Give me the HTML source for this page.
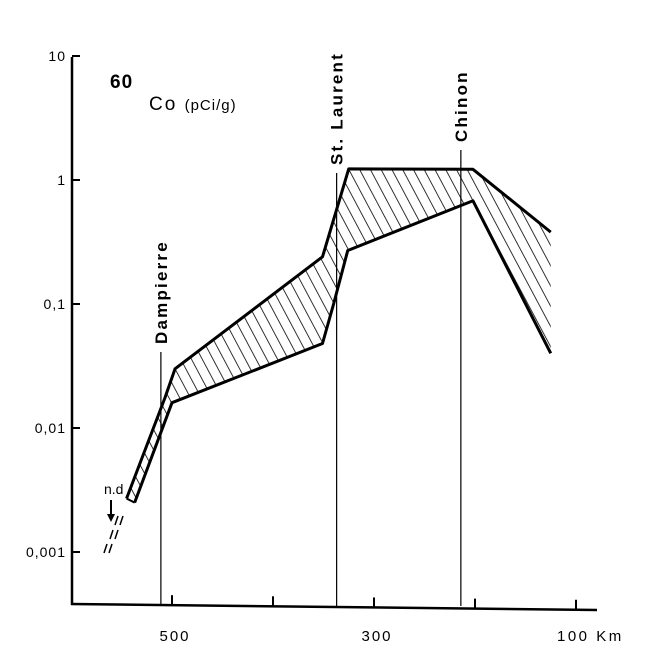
<!DOCTYPE html>
<html><head><meta charset="utf-8"><style>
body{margin:0;background:#fff;}
svg{display:block;font-family:"Liberation Sans",sans-serif;}
</style></head><body>
<svg id="chart" width="651" height="650" viewBox="0 0 651 650">
<defs>
<pattern id="hatch" patternUnits="userSpaceOnUse" width="9.5" height="9.5" patternTransform="rotate(-28)">
<line x1="0" y1="0" x2="0" y2="9.5" stroke="#000" stroke-width="1.6"/>
</pattern>
</defs>
<g id="axes"></g>
<g id="marks"></g>
<text x="110" y="88" font-size="19" font-weight="bold" letter-spacing="1">60</text>
<text x="149" y="110" font-size="19" letter-spacing="2">Co <tspan font-size="15" letter-spacing="1">(pCi/g)</tspan></text>
<text x="104" y="494" font-size="14">n.d</text>
<line x1="111" y1="500" x2="111" y2="518" stroke="#000" stroke-width="2"/>
<polygon points="107,514 115,514 111,522" fill="#000"/>
<g stroke="#000" stroke-width="1.5">
<line x1="118" y1="516" x2="115" y2="525"/><line x1="123" y1="516" x2="120" y2="525"/>
<line x1="113" y1="530" x2="110" y2="539"/><line x1="118" y1="530" x2="115" y2="539"/>
<line x1="107" y1="544" x2="104" y2="553"/><line x1="112" y1="544" x2="109" y2="553"/>
</g>
</svg>
<script>
const yTickValues=[10,1,0.1,0.01,0.001];
const yTickLabels=["10","1","0,1","0,01","0,001"];
const xTickValues=[500,400,300,200,100];
const xTickLabels=["500","","300","","100 Km"];
const upperKm=[545,507,497,351,325,202,125];
const upperVal=[0.0027,0.0175,0.030,0.24,1.23,1.22,0.38];
const lowerKm=[537,500,351,340,326,202,125];
const lowerVal=[0.0025,0.016,0.048,0.10,0.27,0.68,0.04];
const siteNames=["Dampierre","St. Laurent","Chinon"];
const siteKm=[511,337,214];

const NS="http://www.w3.org/2000/svg";
function xs(km){return 172+(500-km)*1.01;}
function ys(v){return 552-(Math.log10(v)+3)*124;}
function mk(tag,attrs,parent){const e=document.createElementNS(NS,tag);for(const k in attrs)e.setAttribute(k,attrs[k]);parent.appendChild(e);return e;}
const axes=document.getElementById('axes'),marks=document.getElementById('marks');

let a=mk('line',{x1:72,y1:57,x2:72,y2:605,stroke:'#000','stroke-width':2.5},axes);


a=mk('line',{x1:71,y1:604,x2:597,y2:610,stroke:'#000','stroke-width':2.5},axes);



yTickValues.forEach((v,i)=>{
  const y=ys(v);
  const t=mk('line',{x1:72,y1:y,x2:80,y2:y,stroke:'#000','stroke-width':2},axes);
  
  
  const l=mk('text',{x:66,y:y+5,'font-size':14,'text-anchor':'end','letter-spacing':1},axes);
  l.textContent=yTickLabels[i];
  
  
});
xTickValues.forEach((k,i)=>{
  const x=xs(k),yb=604+(x-71)*6/526;
  const t=mk('line',{x1:x,y1:yb,x2:x,y2:yb-10,stroke:'#000','stroke-width':2},axes);
  
  
  if(xTickLabels[i]){
    const isLast=i===xTickValues.length-1;
    const l=mk('text',{x:isLast?x-19:x+3,y:641,'font-size':15,'text-anchor':isLast?'start':'middle','letter-spacing':isLast?2.5:2},axes);
    l.textContent=xTickLabels[i];
    
    
  }
});

const tops=[352,173,150];
siteNames.forEach((n,i)=>{
  const x=xs(siteKm[i]);
  const ln=mk('line',{x1:x,y1:tops[i],x2:x,y2:606,stroke:'#000','stroke-width':1.2},marks);
  
  
  const t=mk('text',{x:0,y:0,'font-size':17,'font-weight':'bold','letter-spacing':2.2,transform:`translate(${x+6},${tops[i]-8}) rotate(-90)`},marks);
  t.textContent=n;
  
  
});

const up=upperKm.map((k,i)=>[xs(k),ys(upperVal[i])]);
const lo=lowerKm.map((k,i)=>[xs(k),ys(lowerVal[i])]);
const poly=up.concat(lo.slice().reverse()).map(p=>p.join(',')).join(' ');
let band=mk('polygon',{points:poly,fill:'url(#hatch)',stroke:'none'},marks);


let ul=mk('polyline',{points:up.map(p=>p.join(',')).join(' '),fill:'none',stroke:'#000','stroke-width':3,'stroke-linejoin':'round'},marks);


let ll=mk('polyline',{points:lo.map(p=>p.join(',')).join(' '),fill:'none',stroke:'#000','stroke-width':3,'stroke-linejoin':'round'},marks);


let cap=mk('line',{x1:up[0][0],y1:up[0][1],x2:lo[0][0],y2:lo[0][1],stroke:'#000','stroke-width':2},marks);


</script>
</body></html>
